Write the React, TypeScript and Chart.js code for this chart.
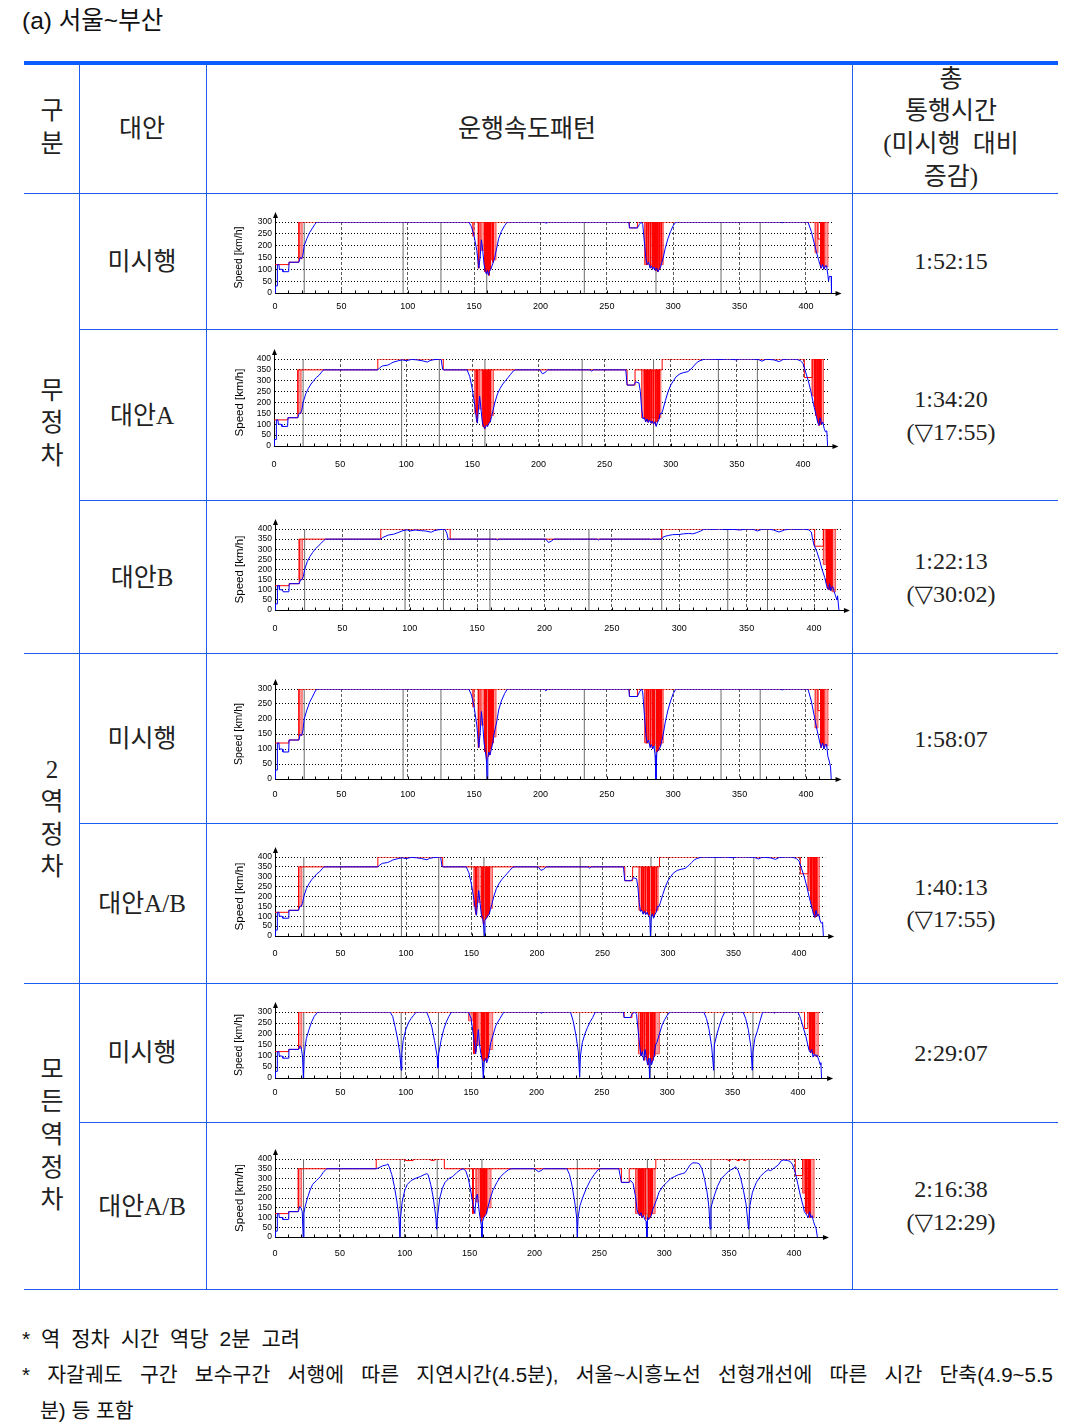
import React, { useEffect, useRef } from "react";
import { Chart, registerables } from "chart.js";
Chart.register(...registerables);

type P = [number, number];
type Dip = [number, number, number]; // [from km, to km, lowest speed]

// ---------------- DATA ----------------
const X_MAX = 420;
const TICK_STEP = 50;
const STATIONS = [22, 96.5, 125, 159.5, 233, 287, 336, 365.5];

// (1) 무정차 / 미시행
const c1Blue: P[] = [[0,0],[0.4,30],[1.6,30],[1.8,120],[3,120],[3.3,100],[5.5,100],[6,90],[10.3,90],[10.6,130],[18,130],[19,150],[20,145],[21,160],[22,200],[24,230],[26,255],[28,272],[30,290],[31.5,300],[146,300],[148,280],[150,240],[152,180],[153.5,105],[154.5,150],[155.5,225],[156.5,180],[157.5,120],[158.5,90],[159.3,80],[160,95],[160.8,75],[161.5,90],[162.5,100],[163.5,115],[164.5,130],[165.5,150],[167,190],[168.5,230],[170.5,260],[173,285],[175,300],[203,300],[204,294],[205.5,300],[266.5,300],[267,275],[273,275],[274.5,290],[276,300],[277,290],[278.5,200],[279.5,140],[280.5,120],[281.5,130],[282.5,105],[283.5,115],[284.5,100],[285.5,110],[286.5,95],[287.5,105],[288.5,90],[289.5,100],[290.5,110],[291.5,130],[292.5,150],[294,190],[296,230],[298,260],[300,285],[302,300],[381,300],[382,296],[383,300],[401.5,300],[404,260],[406,215],[408,170],[409.5,140],[410.5,120],[411.5,105],[412.5,120],[413.5,100],[414.5,115],[415.5,115],[416.5,75],[417,50],[417.5,70],[419,70],[419.2,0]];
const c1Limit: P[] = [[0,120],[10.5,130],[18,300],[267,275],[273,300],[409,228],[411,300],[417,300]];
const c1Dark: Dip[] = [[153.2,153.8,105],[158,158.6,90],[159.1,159.6,80],[160.1,160.6,90],[161.1,161.6,75],[162.1,162.6,100],[164,164.5,130],[279.8,280.3,120],[281.2,281.7,130],[282.6,283.1,105],[284,284.5,100],[285.4,285.9,110],[286.8,287.3,95],[288.2,288.7,90],[289.6,290.1,100],[291,291.5,130],[411,411.5,105],[412,412.5,120],[413,413.5,100]];
const c1Light: Dip[] = [[18,20.5,145],[149,150,240],[155,157.5,180],[163,166.5,140],[278.5,292.5,120],[407,409,170],[414,416.5,110]];

// (2) 무정차 / 대안A
const c2Blue: P[] = [[0,0],[0.4,30],[1.6,30],[1.8,120],[3,120],[3.3,100],[5.5,100],[6,90],[10.3,90],[10.6,130],[18,130],[19,150],[20,150],[21,165],[22,200],[24,240],[26,265],[28,285],[30,300],[32,315],[34,325],[36,340],[37.5,350],[78.5,350],[80,360],[82,368],[86,372],[88,378],[90,385],[94,392],[97,396],[100,392],[104,398],[108,396],[112,392],[116,386],[118,393],[121,397],[124,398],[125.5,400],[126.5,396],[127.5,352],[128.5,350],[146,350],[148,320],[150,260],[152,180],[153,125],[153.8,105],[154.6,170],[155.5,230],[156.5,170],[157.5,110],[158.5,90],[159.5,80],[160.5,95],[161.5,90],[162.5,105],[163.5,110],[164.5,135],[165.5,160],[167,200],[169,240],[171,265],[173,285],[175,300],[177,315],[179,330],[181,345],[182.5,350],[201,350],[203,332],[205,338],[207,350],[239,350],[240,344],[241.5,350],[266,350],[267,280],[272,280],[273.5,295],[276,290],[277,250],[278,170],[279,125],[280,130],[281,110],[282,125],[283,108],[284,120],[285,105],[286,115],[287,100],[288,112],[289,90],[290,110],[291,120],[292,150],[293,148],[294,165],[296,210],[298,250],[300,280],[302,300],[304,318],[307,332],[310,338],[313,342],[316,358],[318,372],[320,385],[322,392],[326,400],[338,398],[344,400],[350,396],[352,400],[360,400],[366,398],[369,390],[372,399],[378,396],[382,388],[385,398],[390,400],[395,399],[398,392],[400,380],[402,340],[404,300],[406,250],[408,190],[410,140],[411,110],[412,95],[413,130],[414,100],[415,110],[416,80],[417,65],[418,70],[418.6,0]];
const c2Limit: P[] = [[0,120],[10.5,130],[18,350],[78.5,400],[128,350],[267,280],[273,350],[293.5,400],[401,315],[407,400],[416,400]];
const c2Dark350: Dip[] = [[153.3,153.9,110],[158,158.6,90],[159.1,159.6,80],[160.1,160.6,95],[161.1,161.6,90],[162.1,162.6,105],[163.2,163.7,110],[279.8,280.3,130],[281.2,281.7,115],[282.6,283.1,110],[284,284.5,115],[285.4,285.9,105],[286.8,287.3,100],[288.2,288.7,95],[289.6,290.1,110],[291,291.5,125]];
const c2Light350: Dip[] = [[18,20.5,150],[152,153,150],[155,157.5,170],[163.8,166,140],[278,292.5,130]];
const c2Dark400: Dip[] = [[408.5,409,180],[409.6,410.1,140],[410.8,411.3,110],[412,412.5,95],[413.2,413.7,100]];
const c2Light400: Dip[] = [[407,408.5,230],[413.8,415.5,105]];

// (3) 무정차 / 대안B
const c3Blue: P[] = [[0,0],[0.4,30],[1.6,30],[1.8,120],[3,120],[3.3,100],[5.5,100],[6,90],[10.3,90],[10.6,130],[18,130],[19,150],[20,150],[21,165],[22,200],[24,240],[26,265],[28,285],[30,302],[32,315],[34,328],[36,342],[37.5,350],[78.5,350],[80,358],[84,370],[88,374],[92,384],[95,392],[98,396],[100,390],[104,395],[108,392],[112,390],[116,384],[118,391],[121,396],[124,398],[126,400],[127.5,380],[128.5,350],[164,350],[165,345],[166,350],[201,350],[203,333],[205,340],[207,350],[239,350],[240,345],[241,350],[278,350],[279,347],[280,350],[287,350],[288,360],[290,365],[292,368],[295,372],[300,373],[303,376],[307,378],[310,376],[313,382],[316,390],[318,398],[320,400],[325,398],[330,400],[335,397],[340,398],[345,395],[350,400],[355,398],[358,390],[361,398],[366,400],[370,395],[374,385],[378,395],[382,400],[388,398],[392,400],[396,396],[398,385],[399,350],[400,320],[402,290],[404,250],[406,200],[408,160],[409,130],[410,105],[411,100],[411.5,130],[412.5,95],[413,110],[414,115],[415,90],[416,70],[417,50],[417.5,70],[418.5,0]];
const c3Limit: P[] = [[0,120],[10.5,130],[18,350],[78.5,400],[130,350],[287,400],[400.5,315],[407,400],[417,400]];
const c3Light350: Dip[] = [[18,20.5,150]];
const c3Dark400: Dip[] = [[409,409.5,130],[410,410.5,105],[411,411.5,100],[412,412.5,95],[413,413.5,110]];
const c3Light400: Dip[] = [[407,409,225],[413.6,416,90]];

// (4) 2역정차 / 미시행
const c4Blue: P[] = [[0,0],[0.4,30],[1.6,30],[1.8,120],[3,120],[3.3,100],[5.5,100],[6,90],[10.3,90],[10.6,130],[18,130],[19,150],[20,145],[21,160],[22,200],[24,230],[26,255],[28,272],[30,290],[31.5,300],[146,300],[148,280],[150,240],[152,180],[153.5,105],[154.5,150],[155.5,225],[156.5,180],[157.5,120],[158.5,90],[159.3,60],[159.8,0],[160.3,70],[161,90],[162,80],[163,100],[164,120],[165,150],[167,190],[168.5,230],[170.5,260],[173,285],[175,300],[203,300],[204,294],[205.5,300],[266.5,300],[267,275],[273,275],[274.5,290],[276,300],[277,290],[278.5,200],[279.5,140],[280.5,120],[281.5,130],[282.5,105],[283.5,115],[284.5,100],[285.5,110],[286.3,80],[287,0],[287.6,90],[288.5,95],[289.5,100],[290.5,110],[291.5,130],[292.5,150],[294,190],[296,230],[298,260],[300,285],[302,300],[381,300],[382,296],[383,300],[401.5,300],[404,260],[406,215],[408,170],[409.5,140],[410.5,120],[411.5,105],[412.5,120],[413.5,100],[414.5,115],[415.5,115],[416.5,75],[417.5,60],[418.5,40],[419,0]];
const c4Limit: P[] = [[0,120],[10.5,130],[18,300],[267,275],[273,300],[409,228],[411,300],[417,300]];
const c4Dark: Dip[] = [[153.2,153.8,105],[158,158.6,90],[159.1,159.6,60],[160.5,161,75],[161.5,162,80],[162.5,163,100],[164,164.5,120],[279.8,280.3,120],[281.2,281.7,130],[282.6,283.1,105],[284,284.5,100],[285.4,285.9,110],[287.6,288.1,90],[288.8,289.3,95],[290,290.5,110],[291,291.5,130],[411,411.5,105],[412,412.5,120],[413,413.5,100]];
const c4Light: Dip[] = [[18,20.5,145],[149,150,240],[155,157.5,180],[163,166.5,140],[278.5,292.5,120],[407,409,170],[414,416.5,110]];

// (5) 2역정차 / 대안A/B
const c5Blue: P[] = [[0,0],[0.4,30],[1.6,30],[1.8,120],[3,120],[3.3,100],[5.5,100],[6,90],[10.3,90],[10.6,130],[18,130],[19,150],[20,150],[21,165],[22,200],[24,240],[26,265],[28,285],[30,300],[32,315],[34,325],[36,340],[37.5,350],[78.5,350],[80,360],[82,368],[86,372],[88,378],[90,385],[94,392],[97,396],[100,392],[104,398],[108,396],[112,392],[116,386],[118,393],[121,397],[124,398],[125.5,400],[126.5,396],[127.5,352],[128.5,350],[146,350],[148,320],[150,260],[152,180],[153,125],[153.8,105],[154.6,170],[155.5,230],[156.5,170],[157.5,110],[158.5,90],[159.3,50],[159.8,0],[160.3,80],[161.5,90],[162.5,105],[163.5,110],[164.5,135],[165.5,160],[167,200],[169,240],[171,265],[173,285],[175,300],[177,315],[179,330],[181,345],[182.5,350],[201,350],[203,332],[205,338],[207,350],[239,350],[240,344],[241.5,350],[266,350],[267,280],[272,280],[273.5,295],[276,290],[277,250],[278,170],[279,125],[280,130],[281,110],[282,125],[283,108],[284,120],[285,105],[286,100],[286.6,0],[287.3,100],[288,112],[289,90],[290,110],[291,120],[292,150],[293,148],[294,165],[296,210],[298,250],[300,280],[302,300],[304,318],[307,332],[310,338],[313,342],[316,358],[318,372],[320,385],[322,392],[326,400],[338,398],[344,400],[350,396],[352,400],[360,400],[366,398],[369,390],[372,399],[378,396],[382,388],[385,398],[390,400],[395,399],[398,392],[400,380],[402,340],[404,300],[406,250],[408,190],[410,140],[411,110],[412,95],[413,130],[414,100],[415,110],[416,80],[417,65],[418,70],[418.6,0]];
const c5Limit: P[] = [[0,120],[10.5,130],[18,350],[78.5,400],[128,350],[267,280],[273,350],[293.5,400],[401,315],[407,400],[416,400]];
const c5Dark350: Dip[] = [[153.3,153.9,110],[158,158.6,90],[159.1,159.6,60],[160.5,161,85],[161.5,162,95],[162.5,163,105],[163.4,163.9,110],[279.8,280.3,130],[281.2,281.7,115],[282.6,283.1,110],[284,284.5,115],[285.4,285.9,105],[287.6,288.1,105],[288.6,289.1,95],[289.6,290.1,110],[291,291.5,125]];
const c5Light350: Dip[] = [[18,20.5,150],[152,153,150],[155,157.5,170],[163.8,166,140],[278,292.5,130]];
const c5Dark400: Dip[] = [[408.5,409,180],[409.6,410.1,140],[410.8,411.3,110],[412,412.5,95],[413.2,413.7,100]];
const c5Light400: Dip[] = [[407,408.5,230],[413.8,415.5,105]];

// (6) 모든역정차 / 미시행
const c6Blue: P[] = [[0,0],[0.4,30],[1.6,30],[1.8,120],[3,120],[3.3,100],[5.5,100],[6,90],[10.3,90],[10.6,130],[18,130],[19,145],[20,140],[21,100],[21.7,0],[22.3,100],[23,140],[24,180],[26,220],[28,255],[30,280],[32,295],[33,300],[88,300],[90,280],[92,230],[94,170],[95.5,110],[96.5,35],[97,110],[98,170],[100,220],[102,250],[104,270],[106,285],[108,300],[116,300],[118,270],[120,230],[122,170],[124,100],[124.6,45],[125.2,110],[127,170],[129,220],[131,255],[133,280],[135,300],[148,300],[150,270],[152,180],[153.5,110],[154.5,160],[155.5,220],[156.5,150],[157.5,110],[158.5,80],[159.3,0],[160,70],[161,90],[162,70],[163,90],[164,120],[165,160],[167,200],[169,240],[172,270],[175,300],[202.5,300],[203.5,294],[205,300],[226,300],[228,260],[230,200],[232,120],[233,5],[233.6,100],[235,160],[237,200],[239,230],[241,255],[243,275],[245,300],[266.5,300],[267,275],[272,275],[273,290],[275,300],[276.5,290],[278,200],[279,140],[280,100],[281,120],[282,80],[283,130],[284,90],[285,60],[286,90],[286.5,0],[287,90],[288,60],[289,80],[290,100],[291,150],[292,160],[294,200],[296,240],[298,265],[300,285],[302,300],[328,300],[330,270],[332,220],[334,140],[335.5,35],[336,150],[338,200],[340,240],[342,275],[344,300],[358,300],[360,270],[362,220],[364,140],[365,35],[365.6,120],[367,180],[369,215],[371,260],[373,300],[381,300],[382,295],[383,300],[400,300],[402,270],[404,230],[406,190],[407.5,150],[408.5,125],[409.5,115],[410.5,130],[411.5,95],[412.5,110],[413.5,100],[414.5,105],[416,80],[417,60],[417.5,70],[418,0]];
const c6Limit: P[] = [[0,120],[10.5,130],[18,300],[267,275],[273,300],[405,225],[407.5,300],[417,300]];
const c6Dark: Dip[] = [[152,152.5,110],[153.4,153.9,120],[158,158.5,90],[159,159.5,80],[160.2,160.7,80],[161.4,161.9,70],[162.6,163.1,90],[279.6,280.1,100],[281,281.5,120],[282.4,282.9,80],[283.8,284.3,90],[285.2,285.7,60],[287.4,287.9,70],[288.8,289.3,80],[290.2,290.7,100],[408.5,409,125],[409.7,410.2,115],[410.9,411.4,110],[412.1,412.6,110]];
const c6Light: Dip[] = [[18,20.5,135],[148,151.5,260],[155,157.5,150],[163.2,166.5,130],[278,294,110],[412.7,415.5,100]];

// (7) 모든역정차 / 대안A/B
const c7Blue: P[] = [[0,0],[0.4,30],[1.6,30],[1.8,120],[3,120],[3.3,100],[5.5,100],[6,90],[10.3,90],[10.6,130],[18,130],[19,155],[20,150],[21,130],[21.7,0],[22.3,120],[23,150],[25,200],[27,240],[29,270],[32,290],[35,310],[37,330],[39,345],[40,350],[78,350],[80,355],[83,365],[86,370],[87,375],[88,360],[90,320],[92,260],[94,180],[95.5,100],[96.3,0],[96.8,100],[98,180],[100,240],[102,270],[105,290],[108,300],[112,310],[115,320],[117,325],[118,320],[120,270],[122,200],[124,100],[124.6,40],[125.2,100],[127,200],[129,250],[131,280],[134,300],[137,310],[140,330],[143,345],[145,350],[147,340],[149,300],[151,230],[153,150],[154,120],[155,200],[156,220],[157,150],[158,100],[159,60],[159.5,0],[160,80],[161,100],[162,110],[163,120],[164,150],[166,200],[168,240],[171,280],[174,310],[177,330],[180,345],[182,350],[200,350],[203,335],[205,340],[207,350],[225,350],[227,320],[229,260],[231,180],[232.5,100],[233,0],[233.6,100],[235,160],[237,200],[240,250],[243,290],[246,320],[249,345],[251,350],[265,350],[267,280],[273,280],[274,290],[276,275],[278,200],[279,140],[280,120],[281,110],[282,125],[283,100],[284,110],[285,90],[286,80],[286.6,0],[287.2,100],[288,90],[289,100],[290,110],[291,140],[292,155],[294,190],[296,230],[299,260],[302,280],[305,300],[308,310],[311,320],[314,325],[316,330],[318,350],[320,370],[322,380],[325,380],[327,375],[329,350],[331,300],[333,230],[334.5,150],[335.3,40],[336,150],[338,200],[341,260],[344,300],[347,320],[350,340],[353,350],[355,360],[357,340],[359,300],[361,240],[363,170],[365,40],[366,160],[368,230],[371,280],[374,310],[377,330],[380,345],[382,340],[385,355],[388,370],[390,390],[392,395],[395,392],[397,388],[399,370],[401,330],[403,270],[405,210],[407,160],[408,130],[409,120],[410,110],[411,100],[412,130],[413,100],[414,110],[415,80],[416,60],[417,45],[418,0]];
const c7Limit: P[] = [[0,120],[10.5,130],[18,350],[78,400],[100.5,392],[106.5,400],[120,393],[123,400],[130.5,350],[267,280],[273,350],[293.5,400],[349,393],[351,400],[356,392],[358,400],[361,393],[363,400],[401,315],[406.7,400],[416,400]];
const c7Dark350: Dip[] = [[152.4,152.9,120],[158,158.5,100],[159,159.5,80],[160.2,160.7,100],[161.4,161.9,110],[162.6,163.1,120],[279.8,280.3,120],[281.2,281.7,110],[282.6,283.1,100],[284,284.5,110],[285.4,285.9,90],[287.6,288.1,90],[289,289.5,100],[290.4,290.9,120]];
const c7Light350: Dip[] = [[18,20.5,155],[155,157,180],[163.2,166.5,150],[278,293,120]];
const c7Dark400: Dip[] = [[408.5,409,130],[409.7,410.2,120],[410.9,411.4,110],[412.1,412.6,100]];
const c7Light400: Dip[] = [[406.7,408.5,225],[412.7,415.5,100]];

// ---------------- LAYOUT / STYLE ----------------
const SANS = "'Liberation Sans', Arial, 'Noto Sans CJK KR', sans-serif";
const SERIF = "'Liberation Serif', 'DejaVu Serif', 'Noto Sans CJK KR', serif";
const NARROW = "'Liberation Sans Narrow', 'Liberation Sans', Arial, sans-serif";
const CANVAS_LEFT = 226;
const CANVAS_W = 630;
const TOP_PAD = 14;

type DipGroup = { d: Dip[]; top: number; dark: boolean };
type Spec = { T: number; B: number; lab: number; L: number; x400: number; yMax: number; blue: P[]; limit: P[]; dips: DipGroup[] };

const CHARTS: Spec[] = [
  { T: 222, B: 293, lab: 307, L: 275, x400: 806, yMax: 300, blue: c1Blue, limit: c1Limit, dips: [{ d: c1Dark, top: 300, dark: true }, { d: c1Light, top: 300, dark: false }] },
  { T: 359, B: 446, lab: 465, L: 274, x400: 803, yMax: 400, blue: c2Blue, limit: c2Limit, dips: [{ d: c2Dark350, top: 350, dark: true }, { d: c2Dark400, top: 400, dark: true }, { d: c2Light350, top: 350, dark: false }, { d: c2Light400, top: 400, dark: false }] },
  { T: 529, B: 610, lab: 629, L: 275, x400: 814, yMax: 400, blue: c3Blue, limit: c3Limit, dips: [{ d: c3Dark400, top: 400, dark: true }, { d: c3Light350, top: 350, dark: false }, { d: c3Light400, top: 400, dark: false }] },
  { T: 689, B: 779, lab: 795, L: 275, x400: 806, yMax: 300, blue: c4Blue, limit: c4Limit, dips: [{ d: c4Dark, top: 300, dark: true }, { d: c4Light, top: 300, dark: false }] },
  { T: 857, B: 936, lab: 954, L: 275, x400: 799, yMax: 400, blue: c5Blue, limit: c5Limit, dips: [{ d: c5Dark350, top: 350, dark: true }, { d: c5Dark400, top: 400, dark: true }, { d: c5Light350, top: 350, dark: false }, { d: c5Light400, top: 400, dark: false }] },
  { T: 1012, B: 1078, lab: 1093, L: 275, x400: 798, yMax: 300, blue: c6Blue, limit: c6Limit, dips: [{ d: c6Dark, top: 300, dark: true }, { d: c6Light, top: 300, dark: false }] },
  { T: 1159, B: 1237, lab: 1254, L: 275, x400: 794, yMax: 400, blue: c7Blue, limit: c7Limit, dips: [{ d: c7Dark350, top: 350, dark: true }, { d: c7Dark400, top: 400, dark: true }, { d: c7Light350, top: 350, dark: false }, { d: c7Light400, top: 400, dark: false }] },
];

const toPts = (a: P[]) => a.map(([x, y]) => ({ x, y }));
const dipPts = (dips: Dip[], top: number) => {
  const out: any[] = [];
  for (const [x0, x1, low] of dips) {
    out.push({ x: x0, y: top }, { x: x0, y: low }, { x: x1, y: low }, { x: x1, y: top }, { x: x1, y: null });
  }
  return out;
};
const stationPts = (yMax: number) => {
  const out: any[] = [];
  for (const s of STATIONS) out.push({ x: s, y: 0 }, { x: s, y: yMax }, { x: s, y: null });
  return out;
};

const axisDeco = {
  id: "axisDeco",
  afterDraw(chart: any) {
    const { ctx, chartArea: a, scales } = chart;
    ctx.save();
    ctx.strokeStyle = "#000";
    ctx.fillStyle = "#000";
    ctx.lineWidth = 1;
    const lx = Math.round(a.left) + 0.5;
    const by = Math.round(a.bottom) + 0.5;
    ctx.beginPath();
    ctx.moveTo(lx, a.top);
    ctx.lineTo(lx, a.top - 5);
    ctx.moveTo(a.right, by);
    ctx.lineTo(a.right + 4, by);
    for (let v = 10; v < X_MAX; v += 10) {
      const px = Math.round(scales.x.getPixelForValue(v)) + 0.5;
      ctx.moveTo(px, by);
      ctx.lineTo(px, by - 3);
    }
    ctx.stroke();
    ctx.beginPath();
    ctx.moveTo(lx, a.top - 10);
    ctx.lineTo(lx - 2.5, a.top - 4);
    ctx.lineTo(lx + 2.5, a.top - 4);
    ctx.closePath();
    ctx.fill();
    ctx.beginPath();
    ctx.moveTo(a.right + 9, by);
    ctx.lineTo(a.right + 3, by - 2.5);
    ctx.lineTo(a.right + 3, by + 2.5);
    ctx.closePath();
    ctx.fill();
    ctx.restore();
  },
};

function SpeedChart({ s }: { s: Spec }) {
  const ref = useRef<HTMLCanvasElement>(null);
  const top = s.T - TOP_PAD;
  const h = s.lab + 12 - top;
  useEffect(() => {
    const R = s.L + (X_MAX * (s.x400 - s.L)) / 400;
    const areaLeft = s.L - CANVAS_LEFT;
    const areaRight = R - CANVAS_LEFT;
    const areaBottom = s.B - top;
    const datasets: any[] = [];
    datasets.push({ label: "운행속도", data: toPts(s.blue), borderColor: "#0000ff", borderWidth: 1, pointRadius: 0, tension: 0, fill: false });
    datasets.push({ label: "제한속도", data: toPts(s.limit), stepped: true, borderColor: "#ff0000", borderWidth: 1, pointRadius: 0, fill: false });
    for (const g of s.dips) {
      datasets.push({
        label: "제한",
        data: dipPts(g.d, g.top),
        borderColor: g.dark ? "#ff0000" : "rgba(255,70,70,0.9)",
        backgroundColor: g.dark ? "#ff0000" : "rgba(255,120,120,0.75)",
        borderWidth: 1,
        pointRadius: 0,
        tension: 0,
        spanGaps: false,
        fill: { value: g.top },
      });
    }
    datasets.push({ label: "역", data: stationPts(s.yMax), borderColor: "#6a6a6a", borderWidth: 1, pointRadius: 0, spanGaps: false, fill: false });

    const chart = new Chart(ref.current as HTMLCanvasElement, {
      type: "line",
      data: { datasets },
      options: {
        responsive: false,
        animation: false,
        events: [],
        layout: { padding: { left: 0, right: CANVAS_W - areaRight, top: TOP_PAD, bottom: 0 } },
        plugins: { legend: { display: false }, tooltip: { enabled: false } },
        scales: {
          x: {
            type: "linear",
            min: 0,
            max: X_MAX,
            afterFit: (sc: any) => { sc.height = h - areaBottom; },
            ticks: { stepSize: TICK_STEP, includeBounds: false, autoSkip: false, maxRotation: 0, padding: s.lab - s.B - 5.4, color: "#000", font: { family: NARROW, size: 9 } },
            grid: { color: "#5a5a5a", lineWidth: 1, drawTicks: false },
            border: { display: true, color: "#000", width: 1, dash: [3, 2] },
          },
          y: {
            type: "linear",
            min: 0,
            max: s.yMax,
            afterFit: (sc: any) => { sc.width = areaLeft; },
            ticks: { stepSize: 50, includeBounds: false, autoSkip: false, padding: 3, color: "#000", font: { family: NARROW, size: 8.5 } },
            grid: { color: "#000", lineWidth: 1, drawTicks: false },
            border: { display: true, color: "#000", width: 1, dash: [1, 2] },
            title: { display: true, text: "Speed [km/h]", color: "#000", font: { family: SANS, size: s.yMax === 400 ? 11.5 : 10.5 }, padding: { top: 7, bottom: 0 } },
          },
        },
      } as any,
      plugins: [axisDeco as any],
    });
    return () => chart.destroy();
  }, []);
  return (
    <canvas
      ref={ref}
      width={CANVAS_W}
      height={h}
      style={{ position: "absolute", left: CANVAS_LEFT, top, width: CANVAS_W, height: h }}
    />
  );
}

const LINE = "#1d5ef0";
const HL = ({ x1, x2, y, w = 1, c = LINE }: any) => (
  <div style={{ position: "absolute", left: x1, top: y, width: x2 - x1, height: w, background: c }} />
);
const VL = ({ x, y1, y2 }: any) => (
  <div style={{ position: "absolute", left: x, top: y1, width: 1, height: y2 - y1, background: LINE }} />
);
const Txt = ({ x, y, children, size = 25, family = SERIF, left = false, style = {} }: any) => (
  <div
    style={{
      position: "absolute",
      left: x,
      top: y,
      transform: left ? "translateY(-50%)" : "translate(-50%,-50%)",
      fontSize: size,
      fontFamily: family,
      lineHeight: 1,
      whiteSpace: "nowrap",
      color: "#222",
      ...style,
    }}
  >
    {children}
  </div>
);

const ROW_LABELS: [string, number][] = [["미시행", 261], ["대안A", 415], ["대안B", 577], ["미시행", 738], ["대안A/B", 903], ["미시행", 1052], ["대안A/B", 1206]];
const GROUP_LABELS: [string, number][] = [["무", 390], ["정", 422], ["차", 455], ["2", 769], ["역", 801], ["정", 834], ["차", 866], ["모", 1069], ["든", 1101], ["역", 1134], ["정", 1167], ["차", 1199]];
const TIME_LABELS: [string, number][] = [["1:52:15", 261], ["1:34:20", 399], ["(▽17:55)", 432], ["1:22:13", 561], ["(▽30:02)", 594], ["1:58:07", 739], ["1:40:13", 887], ["(▽17:55)", 919], ["2:29:07", 1053], ["2:16:38", 1189], ["(▽12:29)", 1222]];

export default function App() {
  return (
    <div style={{ position: "absolute", left: 0, top: 0, width: 1072, height: 1428, background: "#fff", overflow: "hidden" }}>
      <Txt x={22} y={21} left size={24.5} family={SANS} style={{ color: "#111" }}>(a) 서울~부산</Txt>

      <HL x1={24} x2={1058} y={61} w={4} c="#0a5cff" />
      <HL x1={24} x2={1058} y={193} />
      <HL x1={79} x2={1058} y={329} />
      <HL x1={79} x2={1058} y={500} />
      <HL x1={24} x2={1058} y={653} />
      <HL x1={79} x2={1058} y={823} />
      <HL x1={24} x2={1058} y={983} />
      <HL x1={79} x2={1058} y={1122} />
      <HL x1={24} x2={1058} y={1289} />
      <VL x={79} y1={65} y2={1290} />
      <VL x={206} y1={65} y2={1290} />
      <VL x={852} y1={65} y2={1290} />

      <Txt x={52} y={110}>구</Txt>
      <Txt x={52} y={143}>분</Txt>
      <Txt x={142} y={128}>대안</Txt>
      <Txt x={527} y={128}>운행속도패턴</Txt>
      <Txt x={951} y={78}>총</Txt>
      <Txt x={951} y={110}>통행시간</Txt>
      <Txt x={951} y={143} style={{ wordSpacing: 6 }}>(미시행 대비</Txt>
      <Txt x={951} y={176}>증감)</Txt>

      {ROW_LABELS.map(([t, y], i) => (
        <Txt key={"r" + i} x={142} y={y}>{t}</Txt>
      ))}
      {GROUP_LABELS.map(([t, y], i) => (
        <Txt key={"g" + i} x={52} y={y}>{t}</Txt>
      ))}
      {TIME_LABELS.map(([t, y], i) => (
        <Txt key={"t" + i} x={951} y={y} size={24}>{t}</Txt>
      ))}

      {CHARTS.map((s, i) => (
        <SpeedChart key={"c" + i} s={s} />
      ))}

      <Txt x={22} y={1338} left size={21} family={SANS} style={{ wordSpacing: 5, color: "#111" }}>* 역 정차 시간 역당 2분 고려</Txt>
      <div
        style={{
          position: "absolute",
          left: 22,
          top: 1363,
          width: 1031,
          fontSize: 20.5,
          lineHeight: "24px",
          fontFamily: SANS,
          textAlign: "justify",
          textAlignLast: "justify",
          color: "#111",
          whiteSpace: "nowrap",
        } as any}
      >
        * 자갈궤도 구간 보수구간 서행에 따른 지연시간(4.5분), 서울~시흥노선 선형개선에 따른 시간 단축(4.9~5.5
      </div>
      <Txt x={40} y={1411} left size={20.5} family={SANS} style={{ color: "#111" }}>분) 등 포함</Txt>
    </div>
  );
}
